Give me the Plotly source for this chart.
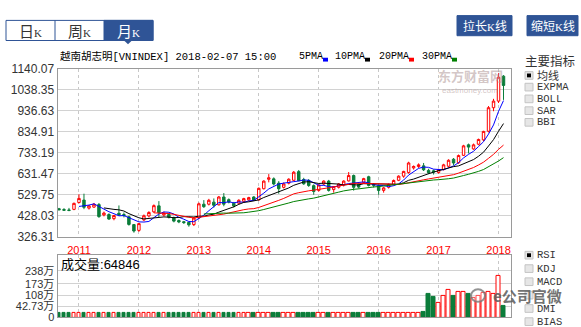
import plotly.graph_objects as go
import pandas as pd

W, H = 581, 327

# ---------------- data ----------------
months = [p.strftime("%Y-%m") for p in pd.period_range("2010-09", "2018-02", freq="M")]

open_ = [462, 458, 456, 459, 492, 504, 465, 470, 482, 432, 434, 414,
         440, 434, 423, 385, 357, 408, 427, 447, 476, 432, 434, 419,
         405, 399, 396, 385, 418, 484, 484, 494, 481, 519, 506, 489,
         489, 498, 505, 519, 505, 559, 605, 607, 586, 566, 586, 600,
         642, 604, 599, 574, 551, 582, 596, 555, 566, 578, 597, 623,
         580, 590, 617, 581, 574, 551, 566, 580, 600, 620, 638, 660,
         667, 670, 648, 646, 638, 652, 668, 702, 685, 721, 772, 752,
         775, 796, 838, 952, 984, 1105]
high = [466, 465, 466, 492, 532, 535, 480, 490, 490, 448, 440, 432,
        478, 444, 428, 388, 392, 434, 450, 483, 499, 448, 440, 424,
        410, 403, 398, 420, 492, 504, 510, 512, 524, 538, 512, 495,
        508, 515, 520, 523, 565, 600, 630, 614, 596, 590, 610, 645,
        650, 612, 606, 580, 580, 600, 602, 572, 586, 600, 640, 628,
        586, 612, 622, 585, 578, 568, 584, 604, 624, 646, 690, 672,
        682, 684, 656, 652, 656, 680, 702, 708, 725, 772, 778, 778,
        802, 840, 960, 995, 1120, 1110]
low = [455, 452, 450, 455, 488, 460, 458, 466, 418, 425, 408, 406,
       428, 420, 380, 346, 350, 402, 420, 442, 422, 425, 415, 396,
       392, 388, 375, 378, 412, 466, 478, 468, 478, 474, 488, 468,
       484, 492, 500, 500, 502, 556, 590, 575, 535, 560, 580, 596,
       596, 578, 568, 530, 545, 576, 545, 540, 560, 570, 594, 550,
       560, 586, 570, 565, 530, 540, 560, 575, 596, 612, 632, 652,
       660, 645, 630, 628, 632, 648, 662, 672, 680, 718, 730, 748,
       770, 790, 832, 935, 975, 990]
close = [457, 455, 454, 488, 512, 469, 476, 484, 424, 441, 412, 429,
         433, 429, 386, 354, 390, 428, 444, 477, 443, 440, 421, 402,
         398, 395, 384, 417, 486, 472, 503, 479, 519, 484, 494, 476,
         503, 511, 516, 505, 561, 596, 612, 582, 559, 582, 605, 639,
         598, 583, 575, 546, 577, 596, 551, 569, 582, 596, 623, 566,
         567, 608, 575, 576, 551, 563, 580, 599, 620, 643, 684, 667,
         675, 651, 637, 640, 652, 675, 697, 684, 720, 767, 761, 772,
         798, 837, 952, 984, 1100, 1060]
# volume, unit: 万
volume = [23, 23, 23, 23, 23, 23, 23, 23, 23, 23, 23, 23,
          23, 23, 23, 23, 23, 23, 23, 23, 23, 23, 23, 23,
          23, 23, 23, 23, 23, 23, 23, 23, 23, 23, 23, 23,
          23, 23, 23, 23, 23, 23, 23, 23, 23, 23, 23, 23,
          23, 23, 23, 23, 23, 23, 23, 23, 23, 23, 23, 23,
          23, 23, 23, 23, 23, 23, 23, 23, 23, 23, 23, 23,
          23, 28, 122, 103, 73, 108, 142, 108, 132, 132, 118, 98,
          108, 127, 132, 122, 211, 59]
last_volume_text = "64846"

ma_windows = [5, 10, 20, 30]
ma_names = ["5PMA", "10PMA", "20PMA", "30PMA"]
ma_colors = ["#0000ff", "#000000", "#ff0000", "#008000"]

price_ticks = [326.31, 428.03, 529.75, 631.47, 733.19, 834.91, 936.63, 1038.35, 1140.07]
vol_tick_text = ["0", "42.73万", "108万", "173万", "238万"]

title_text = "越南胡志明[VNINDEX] 2018-02-07 15:00"
main_indicators = ["均线", "EXPMA", "BOLL", "SAR", "BBI"]
sub_indicators = ["RSI", "KDJ", "MACD", "DMI", "BIAS"]

# ---------------- helpers ----------------
def X(p):
    return p / W

def Y(p):
    return 1 - p / H

UP = "#ff0000"
DOWN = "#0b7d3a"
BLUE = "#2f5496"
CJK = "Noto Sans CJK SC"
MONO = "Liberation Mono, Noto Sans CJK SC"
SANS = "Liberation Sans, Arial, Noto Sans CJK SC"

is_up = [c >= o for o, c in zip(open_, close)]

fig = go.Figure()

fig.add_trace(go.Candlestick(
    x=months, open=open_, high=high, low=low, close=close,
    increasing=dict(line=dict(color=UP, width=1), fillcolor="white"),
    decreasing=dict(line=dict(color=DOWN, width=1), fillcolor=DOWN),
    xaxis="x", yaxis="y", showlegend=False, hoverinfo="skip"))

cs = pd.Series(close, dtype=float)
for win, name, col in zip(ma_windows, ma_names, ma_colors):
    fig.add_trace(go.Scatter(
        x=months, y=cs.rolling(win).mean(), mode="lines", name=name,
        line=dict(color=col, width=1), xaxis="x", yaxis="y",
        showlegend=False, hoverinfo="skip"))

fig.add_trace(go.Bar(
    x=months, y=volume, width=0.72,
    marker=dict(color=["white" if u else DOWN for u in is_up],
                line=dict(color=[UP if u else DOWN for u in is_up], width=1)),
    xaxis="x2", yaxis="y2", showlegend=False, hoverinfo="skip"))

year_vals = [m for m in months if m.endswith("-01")]
year_text = [m[:4] for m in year_vals]

x_dom = [X(57.5), X(510.5)]
x_rng = [-0.3, len(months) - 1 + 1.4]
common_x = dict(type="category", domain=x_dom, range=x_rng, tickmode="array",
                tickvals=year_vals, showgrid=True, gridcolor="#c8c8c8",
                griddash="3px,3px", gridwidth=1, showline=True, mirror=True,
                linecolor="#9a9a9a", linewidth=1, ticks="", zeroline=False,
                fixedrange=True)

fig.update_layout(
    width=W, height=H, margin=dict(l=0, r=0, t=0, b=0),
    paper_bgcolor="white", plot_bgcolor="white", bargap=0,
    xaxis=dict(**common_x, anchor="y", ticktext=year_text,
               tickfont=dict(color="#ff0000", size=11, family=SANS),
               ticklabelstandoff=3,
               rangeslider=dict(visible=False)),
    xaxis2=dict(**common_x, anchor="y2", matches="x", showticklabels=False),
    yaxis=dict(domain=[Y(240), Y(64.7)], range=[326.30, 1140.08],
               tickmode="array", tickvals=price_ticks,
               ticktext=["%.2f" % v for v in price_ticks],
               tickfont=dict(color="#333333", size=12, family=SANS),
               showgrid=True, gridcolor="#d2d2d2", gridwidth=1,
               showline=True, mirror=True, linecolor="#9a9a9a", linewidth=1,
               ticks="", zeroline=False, anchor="x", fixedrange=True),
    yaxis2=dict(domain=[Y(324.3), Y(259)], range=[0, 319.8],
                tickmode="array", tickvals=[0, 57, 114, 171.5, 238.1],
                ticktext=vol_tick_text,
                tickfont=dict(color="#333333", size=11, family=SANS),
                showgrid=True, gridcolor="#d2d2d2", gridwidth=1,
                showline=True, mirror=True, linecolor="#9a9a9a", linewidth=1,
                ticks="", zeroline=False, anchor="x2", fixedrange=True),
)

shapes = []
anns = []

def rect(x0, y0, x1, y1, fill, line="rgba(0,0,0,0)", lw=1):
    shapes.append(dict(type="rect", xref="paper", yref="paper",
                       x0=X(x0), x1=X(x1), y0=Y(y1), y1=Y(y0),
                       fillcolor=fill, line=dict(color=line, width=lw), layer="above"))

def text(x, y, s, size=12, color="#333333", family=CJK, xanchor="left", **kw):
    anns.append(dict(xref="paper", yref="paper", x=X(x), y=Y(y), text=s,
                     showarrow=False, xanchor=xanchor, yanchor="middle",
                     font=dict(size=size, color=color, family=family), **kw))

# period tabs
rect(6, 14, 153, 35, "white", BLUE)
rect(104, 14, 153, 35, BLUE, BLUE)
shapes.append(dict(type="line", xref="paper", yref="paper", x0=X(55), x1=X(55),
                   y0=Y(14), y1=Y(35), line=dict(color=BLUE, width=1)))
shapes.append(dict(type="path", xref="paper", yref="paper",
                   path="M %f %f L %f %f L %f %f Z" % (X(124), Y(35), X(132), Y(35), X(128), Y(39)),
                   fillcolor=BLUE, line=dict(color=BLUE, width=0)))
ksp = "<span style='font-family:Liberation Serif;font-size:11px'>K</span>"
for cx, ch, col in [(30.5, "日", "#333333"), (79.5, "周", "#333333"), (128.5, "月", "white")]:
    text(cx, 24.5, ch + ksp, size=15, color=col, xanchor="center")

# top right buttons
for x0, x1, lab in [(457, 512, "拉长"), (527, 578, "缩短")]:
    rect(x0, 9, x1, 30, BLUE, BLUE)
    text((x0 + x1) / 2, 19.5, lab + ksp + "线", size=12, color="white", xanchor="center")

# title and MA legend
text(58, 52, title_text, size=10.5, color="#000000", family=MONO)
leg_x = [297, 333, 377, 420]
for lx, name, col in zip(leg_x, ma_names, ma_colors):
    text(lx, 52, name, size=10, color="#000000", family=MONO)
    sx = lx + len(name) * 6 + 2
    rect(sx, 53, sx + 5, 57, col)

# watermark (eastmoney)
text(470, 72, "<b>东方财富网</b>", size=13, color="rgba(175,150,150,0.55)", xanchor="center")
text(470, 87, "eastmoney.com", size=8, color="rgba(175,150,150,0.55)", family=SANS, xanchor="center")

# volume header
text(59, 268, "成交量<span style='font-family:Liberation Sans'>:" + last_volume_text + "</span>",
     size=13, color="#000000")

# right panel
text(523, 56, "主要指标", size=12.5, color="#333333")
def checkbox(y, label, checked):
    rect(525, y - 4, 533, y + 4, "#e6e6e6", "#c4c4c4")
    if checked:
        rect(527, y - 2, 531, y + 2, "#000000")
    fam = CJK if any(ord(c) > 127 for c in label) else MONO
    text(535, y, label, size=11 if fam == CJK else 10.5, color="#333333", family=fam)

for lab, y in zip(main_indicators, [71.5, 83.7, 96, 108.3, 120.5]):
    checkbox(y, lab, lab == main_indicators[0])
for lab, y in zip(sub_indicators, [259.3, 273.3, 287, 315, 328.7]):
    checkbox(y, lab, lab == sub_indicators[0])
rect(525, 297, 533, 305, "#e6e6e6", "#c4c4c4")

# watermark (wechat)
shapes.append(dict(type="circle", xref="paper", yref="paper", x0=X(471), x1=X(485),
                   y0=Y(308), y1=Y(295), line=dict(color="rgba(120,120,120,0.8)", width=2),
                   fillcolor="rgba(255,255,255,0.3)", layer="above"))
text(564, 301, "<b>e公司官微</b>", size=15, color="rgba(95,95,95,0.9)", xanchor="right")

fig.update_layout(shapes=shapes, annotations=anns)
fig.write_html("out.html")
